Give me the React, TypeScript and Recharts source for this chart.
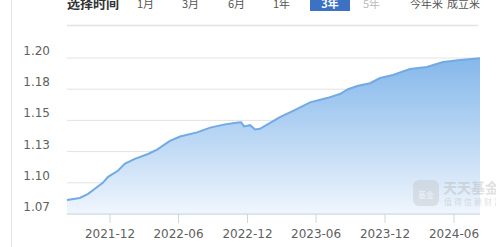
import React from "react";
import { AreaChart, Area, XAxis, YAxis, CartesianGrid } from "recharts";

const dates = [
  "2021-08-09", "2021-09-12", "2021-10-04", "2021-10-22", "2021-11-12", "2021-11-26",
  "2021-12-22", "2022-01-10", "2022-02-05", "2022-03-12", "2022-04-05", "2022-05-09",
  "2022-06-05", "2022-07-20", "2022-08-24", "2022-10-02", "2022-11-06", "2022-11-14",
  "2022-11-22", "2022-12-08", "2022-12-21", "2023-01-03", "2023-01-30", "2023-02-25",
  "2023-04-01", "2023-05-16", "2023-06-30", "2023-08-03", "2023-08-25", "2023-09-18",
  "2023-10-22", "2023-11-18", "2023-12-22", "2024-02-05", "2024-03-21", "2024-05-03",
  "2024-06-17", "2024-08-09",
];
const values = [
  1.0857, 1.0874, 1.0908, 1.095, 1.1, 1.105,
  1.11, 1.116, 1.12, 1.124, 1.1277, 1.135,
  1.1386, 1.142, 1.146, 1.1487, 1.1503, 1.1505,
  1.147, 1.148, 1.1445, 1.145, 1.15, 1.1547,
  1.16, 1.167, 1.1706, 1.174, 1.178, 1.1806,
  1.183, 1.1873, 1.1898, 1.1948, 1.1965, 1.2007,
  1.2023, 1.2038,
];
const yTicks = [1.074, 1.1, 1.126, 1.152, 1.178, 1.204];
const xTickLabels = ["2021-12", "2022-06", "2022-12", "2023-06", "2023-12", "2024-06"];
const periods = ["1月", "3月", "6月", "1年", "3年", "5年", "今年来", "成立来"];
const periodX = [137, 182, 228, 273, 310, 363, 410, 447];

const toTs = (d: string) => Date.parse(d + "T00:00:00Z");
const data = dates.map((d, i) => ({ t: toTs(d), v: values[i] }));
const xTicks = xTickLabels.map((m) => toTs(m + "-01"));

const fmtMonth = (t: number) => {
  const d = new Date(t);
  return `${d.getUTCFullYear()}-${String(d.getUTCMonth() + 1).padStart(2, "0")}`;
};

const font = "'DejaVu Sans', sans-serif";
const cjk = "'Noto Sans CJK SC', sans-serif";

function YTick(props: any) {
  const { x, y, payload } = props;
  return (
    <text x={x} y={y} dy={-3} textAnchor="end" fontSize={12} fill="#606060" fontFamily={font}>
      {Number(payload.value).toFixed(2)}
    </text>
  );
}

function XTick(props: any) {
  const { x, y, payload } = props;
  return (
    <text x={x} y={y} dy={13} textAnchor="middle" fontSize={12} fill="#606060" fontFamily={font}>
      {fmtMonth(payload.value)}
    </text>
  );
}

export default function App() {
  return (
    <div style={{ position: "absolute", left: 0, top: 0, width: 496, height: 247, background: "#fff", overflow: "hidden" }}>
      <AreaChart width={496} height={247} data={data} margin={{ top: 58, right: 16, bottom: 0, left: 0 }}>
        <defs>
          <linearGradient id="fundFill" x1="0" y1="0" x2="0" y2="1">
            <stop offset="0%" stopColor="#7fb4ea" stopOpacity={0.95} />
            <stop offset="100%" stopColor="#f0f6fd" stopOpacity={1} />
          </linearGradient>
        </defs>
        <CartesianGrid vertical={false} stroke="#e3e3e3" />
        <XAxis
          dataKey="t"
          type="number"
          scale="time"
          domain={[toTs(dates[0]), toTs(dates[dates.length - 1])]}
          ticks={xTicks}
          interval={0}
          tick={<XTick />}
          height={33}
          tickSize={9}
          stroke="#ccd6e0"
          tickLine={{ stroke: "#ccd6e0" }}
          axisLine={{ stroke: "#ccd6e0" }}
          tickMargin={2}
        />
        <YAxis
          type="number"
          domain={[1.074, 1.204]}
          ticks={yTicks}
          interval={0}
          tick={<YTick />}
          width={67}
          tickSize={0}
          tickMargin={17}
          axisLine={false}
          tickLine={false}
        />
        <Area
          type="linear"
          dataKey="v"
          stroke="#72aae3"
          strokeWidth={2}
          fill="url(#fundFill)"
          fillOpacity={1}
          isAnimationActive={false}
          dot={false}
          activeDot={false}
        />
      </AreaChart>
      <svg width={496} height={247} style={{ position: "absolute", left: 0, top: 0, pointerEvents: "none" }}>
        <line x1={11.5} y1={0} x2={11.5} y2={247} stroke="#e6e6e6" />
        <line x1={67} y1={25.5} x2={478} y2={25.5} stroke="#e3e3e3" strokeWidth={1.5} />
        <text x={67} y={8} fontSize={13} fontWeight="bold" fill="#333" fontFamily={cjk}>选择时间</text>
        <rect x={310} y={-10} width={40} height={21} fill="#3d71c4" />
        {periods.map((p, i) => (
          <text
            key={p}
            x={i === 4 ? 330 : periodX[i]}
            y={8}
            textAnchor={i === 4 ? "middle" : "start"}
            fontSize={11}
            fontWeight={i === 4 ? "bold" : "normal"}
            fill={i === 4 ? "#fff" : i === 5 ? "#bbb" : "#555"}
            fontFamily={cjk}
          >
            {p}
          </text>
        ))}
        <g opacity={0.35}>
          <rect x={413} y={180} width={26} height={26} rx={6} fill="#bdbdbd" />
          <text x={426} y={198} textAnchor="middle" fontSize={8} fill="#fff" fontFamily={cjk}>基金</text>
          <text x={443} y={193} fontSize={14} fontWeight="bold" fill="#aaa" fontFamily={cjk}>天天基金</text>
          <text x={444} y={205} fontSize={8} fill="#aaa" letterSpacing={2} fontFamily={cjk}>值得信赖财富</text>
        </g>
      </svg>
    </div>
  );
}
